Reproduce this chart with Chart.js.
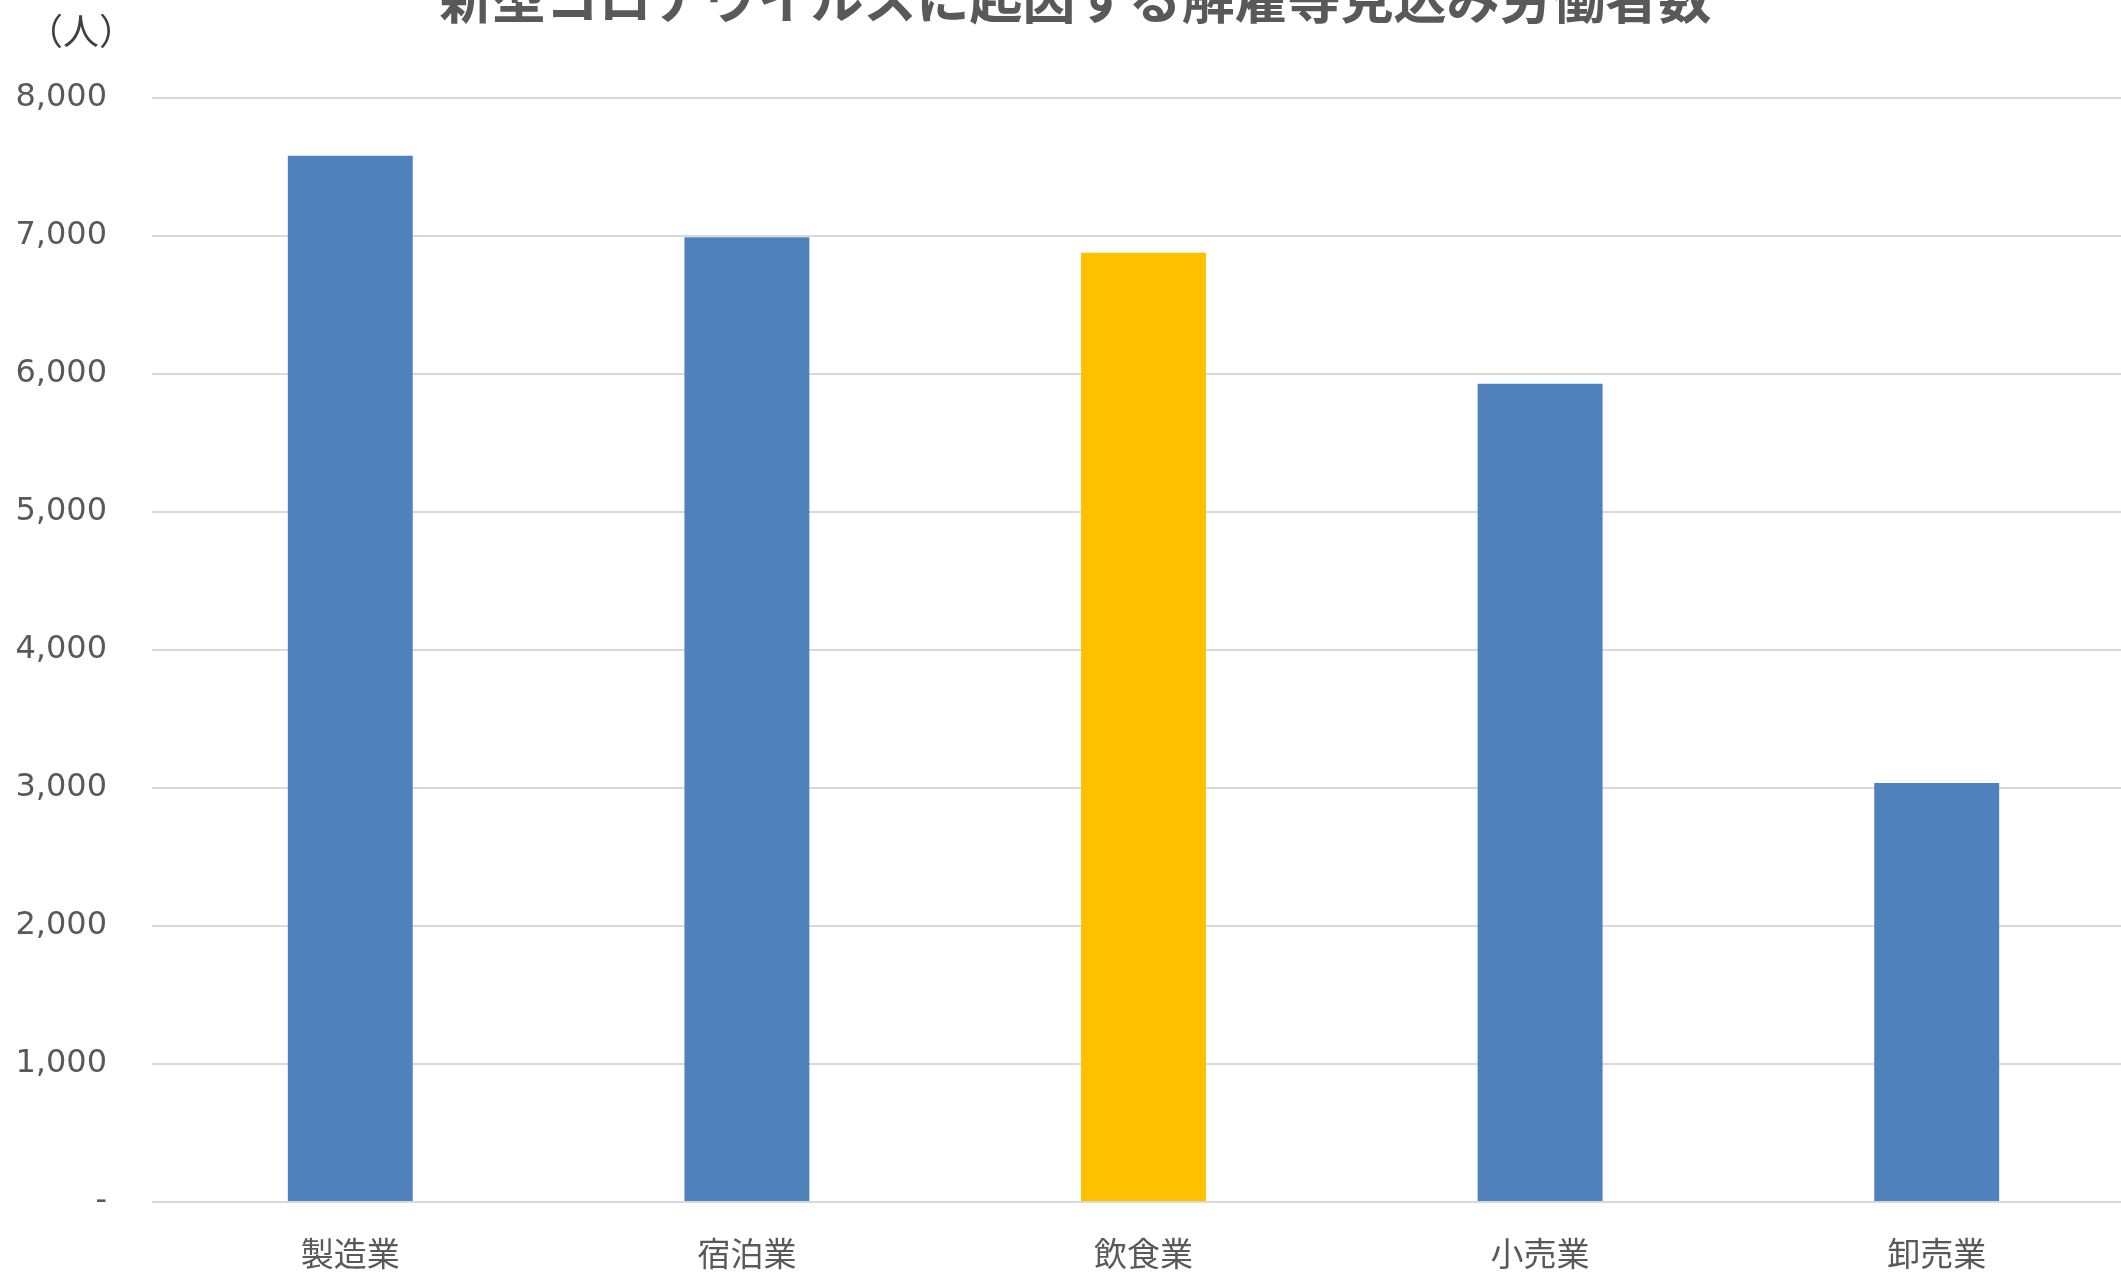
<!DOCTYPE html>
<html>
<head>
<meta charset="utf-8">
<script src="https://cdn.jsdelivr.net/npm/chart.js@4/dist/chart.umd.min.js"></script>
<style>
  html, body { margin: 0; padding: 0; background: #fff; overflow: hidden; width: 2121px; height: 1272px; }
  #wrap { position: absolute; left: 0; top: -40px; width: 2135px; height: 1313px; }
</style>
</head>
<body>
<div id="wrap"><canvas id="chart"></canvas></div>
<script>
// データ
const categories = ['製造業', '宿泊業', '飲食業', '小売業', '卸売業'];
const workers = [7578, 6988, 6877, 5928, 3036];
const barColors = ['#4F81BD', '#4F81BD', '#FFC000', '#4F81BD', '#4F81BD'];
const yTicks = [0, 1000, 2000, 3000, 4000, 5000, 6000, 7000, 8000];
const chartTitle = '新型コロナウイルスに起因する解雇等見込み労働者数';
const unitLabel = '（人）';

const textColor = '#595959';
const gridColor = '#d9d9d9';

// 単位ラベル（人）
const unitPlugin = {
  id: 'unitLabel',
  afterDraw(chart) {
    const ctx = chart.ctx;
    ctx.save();
    ctx.font = '36px "Noto Sans CJK JP"';
    ctx.fillStyle = '#404040';
    ctx.textAlign = 'center';
    ctx.textBaseline = 'middle';
    ctx.fillText(unitLabel, 81, 71);
    ctx.restore();
  }
};

new Chart(document.getElementById('chart').getContext('2d'), {
  type: 'bar',
  data: {
    labels: categories,
    datasets: [{
      data: workers,
      backgroundColor: barColors,
      borderWidth: 0,
      categoryPercentage: 1,
      barPercentage: 0.315
    }]
  },
  options: {
    responsive: true,
    maintainAspectRatio: false,
    animation: false,
    layout: { padding: { left: 16, right: 0, top: 0, bottom: 0 } },
    plugins: {
      legend: { display: false },
      tooltip: { enabled: false },
      title: {
        display: true,
        text: chartTitle,
        color: textColor,
        font: { family: '"Noto Sans CJK JP"', size: 53, weight: 'bold', lineHeight: 1.2 },
        padding: { top: 7, bottom: 67 }
      }
    },
    scales: {
      x: {
        grid: { display: false, drawTicks: false },
        border: { display: false },
        afterFit(axis) { axis.height = 71; },
        ticks: {
          color: textColor,
          font: { family: '"Noto Sans CJK JP"', size: 33, lineHeight: 1.2 },
          padding: 32,
          maxRotation: 0
        }
      },
      y: {
        min: 0,
        max: 8000,
        afterBuildTicks(axis) {
          axis.ticks = yTicks.map(v => ({ value: v }));
        },
        afterFit(axis) { axis.width = 136; },
        grid: { color: gridColor, lineWidth: 2, drawTicks: false },
        border: { display: false },
        ticks: {
          color: textColor,
          font: { family: '"DejaVu Sans"', size: 32 },
          padding: 45,
          callback: v => v === 0 ? '-' : v.toLocaleString('en-US')
        }
      }
    }
  },
  plugins: [unitPlugin]
});
</script>
</body>
</html>
